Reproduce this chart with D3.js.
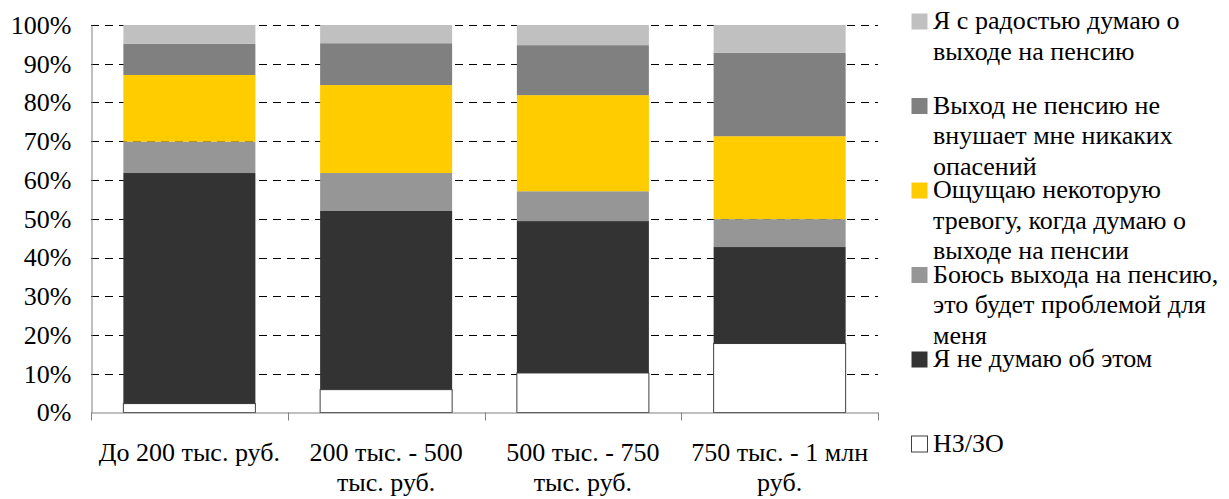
<!DOCTYPE html>
<html>
<head>
<meta charset="utf-8">
<script src="https://cdnjs.cloudflare.com/ajax/libs/d3/7.8.5/d3.min.js"></script>
<style>
  html, body { margin: 0; padding: 0; background: #fff; }
  svg { display: block; }
  svg text { font-family: 'Liberation Serif', 'Times New Roman', Tinos, 'DejaVu Serif', 'Noto Serif', serif !important; fill: #000; }
</style>
</head>
<body>
<svg id="chart" width="1229" height="499"></svg>
<script>
// ---- Data ----
const categories = ["До 200 тыс. руб.", "200 тыс. - 500 тыс. руб.", "500 тыс. - 750 тыс. руб.", "750 тыс. - 1 млн руб."];
const seriesNames = [
  "НЗ/ЗО",
  "Я не думаю об этом",
  "Боюсь выхода на пенсию, это будет проблемой для меня",
  "Ощущаю некоторую тревогу, когда думаю о выходе на пенсии",
  "Выход не пенсию не внушает мне никаких опасений",
  "Я с радостью думаю о выходе на пенсию"
];
const nzzo     = [2.3, 5.9, 10.2, 17.8];
const notThink = [59.5, 46.1, 39.2, 24.9];
const fear     = [8.1, 9.8, 7.7, 7.2];
const anxiety  = [17.2, 22.7, 24.8, 21.4];
const noFear   = [8.1, 10.8, 12.9, 21.5];
const joy      = [4.8, 4.7, 5.2, 7.2];
const yTicks = [0, 10, 20, 30, 40, 50, 60, 70, 80, 90, 100];

// ---- Styles ----
const colors = ["#FFFFFF", "#333333", "#969696", "#FFCC00", "#808080", "#C0C0C0"];
const FONT = 26;

const seriesValues = [nzzo, notThink, fear, anxiety, noFear, joy];
const keys = seriesNames;
const table = categories.map((c, i) => {
  const row = { category: c };
  keys.forEach((k, s) => row[k] = seriesValues[s][i]);
  return row;
});

const svg = d3.select("#chart");
const plotL = 91, plotR = 878, plotT = 25, plotB = 412.5;

const x = d3.scaleBand().domain(categories).range([plotL, plotR]).padding(0);
const y = d3.scaleLinear().domain([0, 100]).range([plotB, plotT]);
const color = d3.scaleOrdinal().domain(keys).range(colors);
const barW = x.bandwidth() * 0.671;

// gridlines
svg.append("g").selectAll("line")
  .data(yTicks.filter(d => d > 0))
  .join("line")
  .attr("x1", plotL).attr("x2", plotR)
  .attr("y1", d => Math.round(y(d)) + 0.5).attr("y2", d => Math.round(y(d)) + 0.5)
  .attr("stroke", "#000").attr("stroke-width", 1)
  .attr("stroke-dasharray", "8,6");

// bars
const stacked = d3.stack().keys(keys)(table);
svg.append("g").selectAll("g")
  .data(stacked)
  .join("g")
  .attr("fill", d => color(d.key))
  .attr("stroke", d => d.key === "НЗ/ЗО" ? "#404040" : "none")
  .selectAll("rect")
  .data(d => d)
  .join("rect")
  .attr("x", d => x(d.data.category) + (x.bandwidth() - barW) / 2)
  .attr("y", d => y(d[1]))
  .attr("width", barW)
  .attr("height", d => y(d[0]) - y(d[1]));

// y axis
const yAxis = svg.append("g")
  .attr("transform", `translate(${plotL + 0.5},0)`)
  .call(d3.axisLeft(y).tickValues(yTicks).tickFormat(d => d + "%").tickSize(0).tickPadding(20));
yAxis.attr("font-family", null).attr("font-size", null);
yAxis.select(".domain").attr("stroke", "#808080");
yAxis.selectAll("text").style("font-size", FONT + "px");

// x axis
const xAxis = svg.append("g")
  .attr("transform", `translate(0,${plotB})`)
  .call(d3.axisBottom(x).tickSize(0).tickPadding(0));
xAxis.attr("font-family", null).attr("font-size", null);
xAxis.select(".domain").attr("stroke", "#808080");
const bounds = categories.map(c => x(c)).concat([x(categories[categories.length - 1]) + x.bandwidth()]);
xAxis.append("g").selectAll("line")
  .data(bounds)
  .join("line")
  .attr("x1", d => Math.round(d) + 0.5).attr("x2", d => Math.round(d) + 0.5)
  .attr("y1", 0).attr("y2", 8)
  .attr("stroke", "#808080");

function wrapText(textSel, maxW, lineH) {
  textSel.each(function() {
    const t = d3.select(this);
    const words = t.text().split(/\s+/);
    const xAttr = t.attr("x") || 0;
    t.text(null);
    let line = [];
    let tspan = t.append("tspan").attr("x", xAttr).attr("dy", 0);
    words.forEach(w => {
      line.push(w);
      tspan.text(line.join(" "));
      if (tspan.node().getComputedTextLength() > maxW && line.length > 1) {
        line.pop();
        tspan.text(line.join(" "));
        line = [w];
        tspan = t.append("tspan").attr("x", xAttr).attr("dy", lineH).text(w);
      }
    });
  });
}

xAxis.selectAll(".tick text")
  .attr("y", 48.5).attr("dy", 0)
  .style("font-size", FONT + "px")
  .call(wrapText, x.bandwidth(), 30);

// legend
const legendItems = keys.slice().reverse();
const leg = svg.append("g");
const entries = leg.selectAll("g")
  .data(legendItems)
  .join("g")
  .attr("transform", (d, i) => `translate(911,${21 + i * 84.5})`);
entries.append("rect")
  .attr("x", 0.5).attr("y", -7.5).attr("width", 16).attr("height", 16)
  .attr("fill", d => color(d))
  .attr("stroke", d => d === "НЗ/ЗО" ? "#404040" : "none");
entries.append("text")
  .attr("x", 22).attr("y", 8)
  .style("font-size", FONT + "px")
  .text(d => d)
  .call(wrapText, 310, 30.5);
</script>
</body>
</html>
